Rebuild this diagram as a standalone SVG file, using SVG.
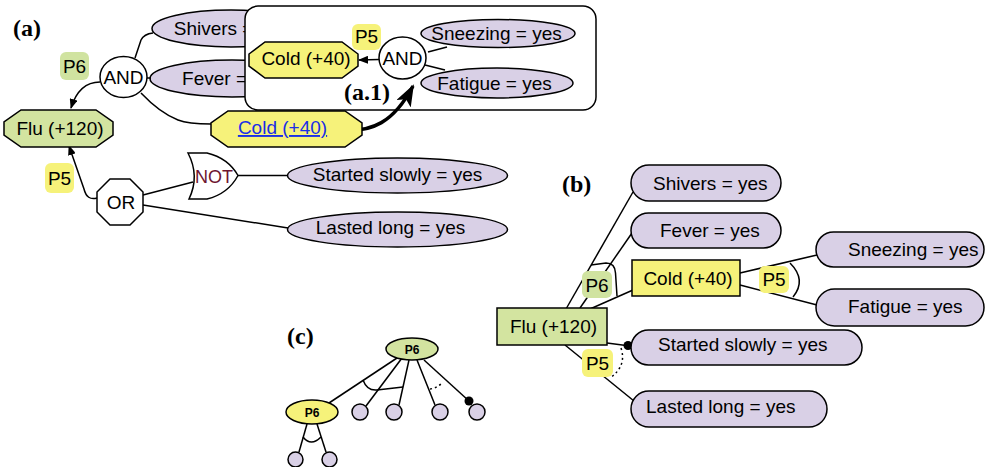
<svg xmlns="http://www.w3.org/2000/svg" width="986" height="467" viewBox="0 0 986 467">
<defs>
<style>
text{font-family:"Liberation Sans",Arial,sans-serif;font-size:19px;fill:#000}
.lbl{font-family:"Liberation Serif","Times New Roman",serif;font-weight:bold;font-size:24px}
.m{text-anchor:middle}
.pur{fill:#d9d0e6;stroke:#000;stroke-width:1.5}
.grn{fill:#d3e4a0;stroke:#000;stroke-width:1.5}
.yel{fill:#f6f27a;stroke:#000;stroke-width:1.5}
.wht{fill:#fff;stroke:#000;stroke-width:1.5}
.pg{fill:#d0e3a0}
.py{fill:#f6f27a}
.ln{fill:none;stroke:#000;stroke-width:1.5}
.dot{fill:none;stroke:#000;stroke-width:1.5;stroke-dasharray:2,3}
.sm{font-size:12px;font-weight:bold}
</style>
<marker id="ah" viewBox="0 0 10 8" refX="9" refY="4" markerWidth="10" markerHeight="8" markerUnits="userSpaceOnUse" orient="auto">
<path d="M0,0 L10,4 L0,8 Z" fill="#000"/>
</marker>
<marker id="big" viewBox="0 0 22 16" refX="20" refY="8" markerWidth="22" markerHeight="16" markerUnits="userSpaceOnUse" orient="auto">
<path d="M0,0 L22,8 L0,16 L5,8 Z" fill="#000"/>
</marker>
</defs>
<rect width="986" height="467" fill="#fff"/>

<!-- (a) -->
<text class="lbl" x="13" y="36">(a)</text>

<g id="a-shivers"><ellipse class="pur" cx="231" cy="28.5" rx="79" ry="18.5"/><text class="m" x="231" y="34.5">Shivers = yes</text></g>
<g id="a-fever"><ellipse class="pur" cx="232" cy="78.5" rx="82" ry="18.5"/><text class="m" x="232" y="84.5">Fever = yes</text></g>

<g id="a1-box"><rect class="wht" x="245" y="6" width="351" height="104" rx="13"/><text class="lbl" x="344" y="100">(a.1)</text></g>

<g id="a-connectors">
<path class="ln" d="M135,58 L141,40 Q144,34 153,33"/>
<path class="ln" d="M147,78 L151,78"/>
<path class="ln" d="M141,93 Q160,113 178,120 Q188,124 211,124"/>
<path class="ln" d="M100,82 Q79,82 71,108" marker-end="url(#ah)"/>
<path class="ln" d="M97,198 Q87,201 84,189 L69,146" marker-end="url(#ah)"/>
<path class="ln" d="M143,195 L193,182"/>
<path class="ln" d="M143,205 L288,228"/>
<path class="ln" d="M238,175.5 L288,175.5"/>
<path class="ln" d="M379,59.5 L359,60" marker-end="url(#ah)"/>
<path class="ln" d="M428,52 L447,47"/>
<path class="ln" d="M425,65 L445,70"/>
<path d="M340,130 C372,133 394,122 413,86" fill="none" stroke="#000" stroke-width="3.5" marker-end="url(#big)"/>
</g>

<g id="a-and"><ellipse class="wht" cx="123.5" cy="77" rx="23.5" ry="20.5"/><text class="m" x="123.5" y="84">AND</text></g>
<g id="a-p6"><rect class="pg" x="60" y="52" width="29" height="28" rx="6"/><text class="m" x="74.5" y="73">P6</text></g>
<g id="a-flu"><polygon class="grn" points="21,110 96,110 113,122 113,135 96,147 21,147 4,135 4,122"/><text class="m" x="60" y="135">Flu (+120)</text></g>
<g id="a-cold-link"><polygon class="yel" points="228,111 345,111 362,123 362,135 345,147 228,147 211,135 211,123"/><text class="m" x="282.5" y="134" fill="#1a2ee6" style="fill:#1a2ee6" text-decoration="underline">Cold (+40)</text></g>
<g id="a1-cold"><polygon class="yel" points="265,42 342,42 358,54 358,66 342,78 265,78 249,66 249,54"/><text class="m" x="306" y="65">Cold (+40)</text></g>
<g id="a1-p5"><rect class="py" x="352" y="24" width="29" height="26" rx="6"/><text class="m" x="366.5" y="43">P5</text></g>
<g id="a1-and"><ellipse class="wht" cx="402.5" cy="58" rx="23.5" ry="21"/><text class="m" x="402.5" y="65">AND</text></g>
<g id="a1-sneezing"><ellipse class="pur" cx="498" cy="33.5" rx="77" ry="14"/><text class="m" x="496.5" y="40">Sneezing = yes</text></g>
<g id="a1-fatigue"><ellipse class="pur" cx="497" cy="83" rx="76" ry="15"/><text class="m" x="494.5" y="89.5">Fatigue = yes</text></g>
<g id="a-p5"><rect class="py" x="45" y="163" width="29" height="30" rx="6"/><text class="m" x="59.5" y="185">P5</text></g>
<g id="a-or"><polygon class="wht" points="110,179 130,179 143,192 143,212 130,225 110,225 97,212 97,192"/><text class="m" x="121" y="209">OR</text></g>
<g id="a-not"><path class="wht" d="M188,153 L207,153 Q228,158 238,175.5 Q228,194 207,199 L189,199 Q200,176 188,153 Z"/><text class="m" x="214" y="183" style="fill:#6e1530;font-size:18px">NOT</text></g>
<g id="a-started"><ellipse class="pur" cx="397.5" cy="175.5" rx="110" ry="17.5"/><text class="m" x="397.5" y="180.5">Started slowly = yes</text></g>
<g id="a-lasted"><ellipse class="pur" cx="397.5" cy="229.5" rx="110" ry="17.5"/><text class="m" x="390.5" y="234">Lasted long = yes</text></g>

<!-- (b) -->
<text class="lbl" x="562" y="192">(b)</text>
<g id="b-connectors">
<path class="ln" d="M566,309 L633,192"/>
<path class="ln" d="M580,308 L632,233"/>
<path class="ln" d="M590,309 L633,290"/>
<path class="ln" d="M591,265 L606,263 Q615,263 615.5,273 L617,296"/>
<path class="ln" d="M740,273 L817,255"/>
<path class="ln" d="M740,285 L817,305"/>
<path class="ln" d="M790,263 Q807,280 793,297"/>
<path class="ln" d="M607,343 L630,346"/>
<path class="ln" d="M565,345 L634,401"/>
<path class="dot" d="M621,348 Q627,366 610,378"/>
<circle cx="628" cy="345.5" r="4.5" fill="#000"/>
</g>
<g id="b-shivers"><rect class="pur" x="631" y="165" width="150" height="36" rx="18"/><text x="653" y="190">Shivers = yes</text></g>
<g id="b-fever"><rect class="pur" x="631" y="213" width="150" height="35" rx="17.5"/><text x="660" y="237">Fever = yes</text></g>
<g id="b-cold"><rect class="yel" x="632" y="260" width="108" height="36"/><text class="m" x="688" y="285">Cold (+40)</text></g>
<g id="b-p5"><rect class="py" x="759" y="266" width="30" height="27" rx="6"/><text class="m" x="774" y="285.5">P5</text></g>
<g id="b-sneezing"><rect class="pur" x="816" y="232" width="168" height="35" rx="17.5"/><text x="848" y="255.5">Sneezing = yes</text></g>
<g id="b-fatigue"><rect class="pur" x="816" y="289" width="168" height="37" rx="18.5"/><text x="848" y="313">Fatigue = yes</text></g>
<g id="b-p6"><rect class="pg" x="582" y="271" width="30" height="27" rx="6"/><text class="m" x="597" y="292">P6</text></g>
<g id="b-flu"><rect class="grn" x="497" y="308" width="110" height="37"/><text class="m" x="553.5" y="333">Flu (+120)</text></g>
<g id="b-started"><rect class="pur" x="631" y="330" width="231" height="35" rx="17.5"/><text x="658" y="351">Started slowly = yes</text></g>
<g id="b-lasted"><rect class="pur" x="631" y="391" width="196" height="36" rx="18"/><text x="646" y="413">Lasted long = yes</text></g>
<g id="b-p5-low"><rect class="py" x="582" y="349" width="31" height="28" rx="6"/><text class="m" x="597.5" y="370">P5</text></g>

<!-- (c) -->
<text class="lbl" x="287" y="344">(c)</text>
<g id="c-connectors">
<path class="ln" d="M397,358 L329,403"/>
<path class="ln" d="M402,358 L366,406"/>
<path class="ln" d="M409,360 L399,405"/>
<path class="ln" d="M417,360 L435,405"/>
<path class="ln" d="M424,360 L469,401"/>
<path class="ln" d="M363,380 Q367,391 377,390 L403,387"/>
<path class="dot" d="M430,389 Q437,388 442,383"/>
<circle cx="469" cy="401" r="4.5" fill="#000"/>
<path class="ln" d="M307,424 L299,452"/>
<path class="ln" d="M317,424 L326,452"/>
<path class="ln" d="M303,437 Q311,447 321,437"/>
</g>
<g id="c-p6-top"><ellipse class="grn" cx="412" cy="349" rx="26" ry="11"/><text class="m sm" x="412" y="353.5">P6</text></g>
<g id="c-p6-yel"><ellipse class="yel" cx="312" cy="412" rx="26" ry="12"/><text class="m sm" x="312" y="417">P6</text></g>
<g id="c-leaf1"><circle class="pur" cx="360" cy="412" r="8"/></g>
<g id="c-leaf2"><circle class="pur" cx="394" cy="412" r="8"/></g>
<g id="c-leaf3"><circle class="pur" cx="440" cy="412" r="8"/></g>
<g id="c-leaf4"><circle class="pur" cx="477" cy="412" r="8"/></g>
<g id="c-leaf5"><circle class="pur" cx="295.5" cy="459.5" r="7.5"/></g>
<g id="c-leaf6"><circle class="pur" cx="329.5" cy="459.5" r="7.5"/></g>
</svg>
